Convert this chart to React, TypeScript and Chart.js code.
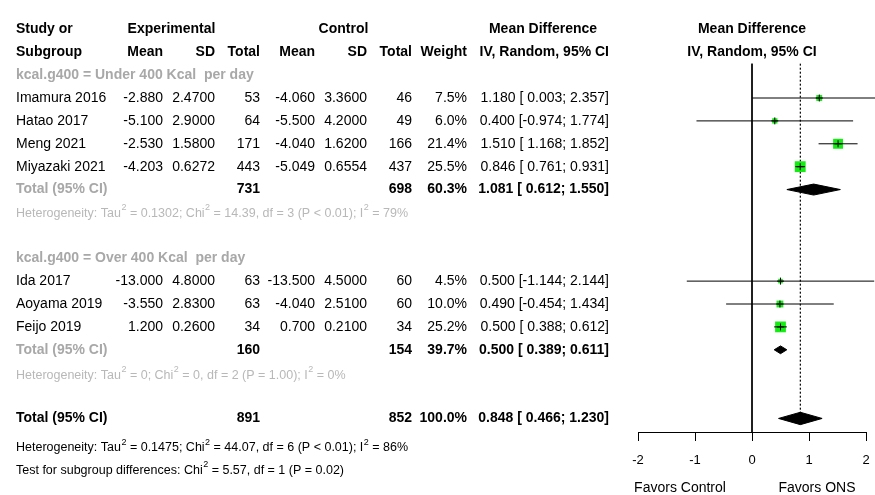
import React, { useEffect, useRef } from 'react';
import { Chart, registerables } from 'chart.js';
Chart.register(...registerables);

// ---------------- data ----------------
const studyNames = ['Imamura 2016', 'Hatao 2017', 'Meng 2021', 'Miyazaki 2021', 'Ida 2017', 'Aoyama 2019', 'Feijo 2019'];
const expMean = [-2.88, -5.1, -2.53, -4.203, -13.0, -3.55, 1.2];
const expSD = [2.47, 2.9, 1.58, 0.6272, 4.8, 2.83, 0.26];
const expTotal = [53, 64, 171, 443, 63, 63, 34];
const ctlMean = [-4.06, -5.5, -4.04, -5.049, -13.5, -4.04, 0.7];
const ctlSD = [3.36, 4.2, 1.62, 0.6554, 4.5, 2.51, 0.21];
const ctlTotal = [46, 49, 166, 437, 60, 60, 34];
const studyWeight = [7.5, 6.0, 21.4, 25.5, 4.5, 10.0, 25.2];
const studyMD = [1.18, 0.4, 1.51, 0.846, 0.5, 0.49, 0.5];
const studyLower = [0.003, -0.974, 1.168, 0.761, -1.144, -0.454, 0.388];
const studyUpper = [2.357, 1.774, 1.852, 0.931, 2.144, 1.434, 0.612];
const studyRow = [3, 4, 5, 6, 11, 12, 13];

const subgroupLabels = ['kcal.g400 = Under 400 Kcal  per day', 'kcal.g400 = Over 400 Kcal  per day'];
const subgroupLabelRow = [2, 10];

const pooledLabel = ['Total (95% CI)', 'Total (95% CI)', 'Total (95% CI)'];
const pooledExpTotal = [731, 160, 891];
const pooledCtlTotal = [698, 154, 852];
const pooledWeight = [60.3, 39.7, 100.0];
const pooledMD = [1.081, 0.5, 0.848];
const pooledLower = [0.612, 0.389, 0.466];
const pooledUpper = [1.55, 0.611, 1.23];
const pooledRow = [7, 14, 17];

const hetTau2 = ['0.1302', '0', '0.1475'];
const hetChi2 = ['14.39', '0', '44.07'];
const hetDf = [3, 2, 6];
const hetP = ['< 0.01', '= 1.00', '< 0.01'];
const hetI2 = [79, 0, 86];
const hetRow = [8, 15, 18];

const testChi2 = '5.57';
const testDf = 1;
const testP = '= 0.02';
const testRow = 19;

const xMin = -2;
const xMax = 2;
const overallMD = pooledMD[2];

// ---------------- styles ----------------
const FONT = '"Liberation Sans", Arial, Helvetica, sans-serif';
const GREEN = '#14ec14';
const GRAY = '#a8a8a8';
const GRAY_LIGHT = '#b8b8b8';
const Y_MIN = -0.9485;
const Y_MAX = 17.592;
const diamondHalf = [0.24, 0.17, 0.27];
const hetOffset = [0.03, 0.11, 0.28];
const testOffset = 0.26;
const HET_SIZE = 12.5;

const fmt3 = (v: number) => v.toFixed(3);
const fmtCI = (md: number, lo: number, hi: number) =>
  `${fmt3(md)} [${lo < 0 ? '' : ' '}${fmt3(lo)}; ${fmt3(hi)}]`;

const tablePlugin = {
  id: 'forestTable',
  afterDraw(chart: any) {
    const ctx: CanvasRenderingContext2D = chart.ctx;
    const ys = chart.scales.y;
    const Y = (r: number) => ys.getPixelForValue(r);
    ctx.save();
    ctx.textBaseline = 'middle';
    const txt = (s: string, x: number, r: number, align: CanvasTextAlign, bold = false, color = '#000', size = 14) => {
      ctx.font = `${bold ? 'bold ' : ''}${size}px ${FONT}`;
      ctx.fillStyle = color;
      ctx.textAlign = align;
      ctx.fillText(s, x, Y(r));
    };
    const sup = (s: string, x: number, r: number, color: string, size: number) => {
      const parts = s.split('^2');
      let cx = x;
      const y = Y(r);
      ctx.textAlign = 'left';
      ctx.fillStyle = color;
      parts.forEach((p, i) => {
        ctx.font = `${size}px ${FONT}`;
        ctx.fillText(p, cx, y);
        cx += ctx.measureText(p).width;
        if (i < parts.length - 1) {
          ctx.font = `${Math.round(size * 0.7)}px ${FONT}`;
          ctx.fillText('2', cx + 0.5, y - size * 0.42);
          cx += ctx.measureText('2').width + 0.5;
        }
      });
    };

    // column right edges
    const cName = 16, cEM = 163, cESD = 215, cEN = 260, cCM = 315, cCSD = 367, cCN = 412, cW = 467, cMD = 609;

    // headers
    txt('Study or', cName, 0, 'left', true);
    txt('Subgroup', cName, 1, 'left', true);
    txt('Experimental', 171.5, 0, 'center', true);
    txt('Control', 343.5, 0, 'center', true);
    txt('Mean Difference', 543, 0, 'center', true);
    txt('Mean', cEM, 1, 'right', true);
    txt('SD', cESD, 1, 'right', true);
    txt('Total', cEN, 1, 'right', true);
    txt('Mean', cCM, 1, 'right', true);
    txt('SD', cCSD, 1, 'right', true);
    txt('Total', cCN, 1, 'right', true);
    txt('Weight', cW, 1, 'right', true);
    txt('IV, Random, 95% CI', cMD, 1, 'right', true);
    const xc = chart.scales.x.getPixelForValue(0);
    txt('Mean Difference', xc, 0, 'center', true);
    txt('IV, Random, 95% CI', xc, 1, 'center', true);

    subgroupLabels.forEach((l, i) => txt(l, cName, subgroupLabelRow[i], 'left', true, GRAY));

    studyNames.forEach((n, i) => {
      const r = studyRow[i];
      txt(n, cName, r, 'left');
      txt(fmt3(expMean[i]), cEM, r, 'right');
      txt(expSD[i].toFixed(4), cESD, r, 'right');
      txt(String(expTotal[i]), cEN, r, 'right');
      txt(fmt3(ctlMean[i]), cCM, r, 'right');
      txt(ctlSD[i].toFixed(4), cCSD, r, 'right');
      txt(String(ctlTotal[i]), cCN, r, 'right');
      txt(studyWeight[i].toFixed(1) + '%', cW, r, 'right');
      txt(fmtCI(studyMD[i], studyLower[i], studyUpper[i]), cMD, r, 'right');
    });

    pooledLabel.forEach((l, i) => {
      const r = pooledRow[i];
      const overall = i === pooledLabel.length - 1;
      txt(l, cName, r, 'left', true, overall ? '#000' : GRAY);
      txt(String(pooledExpTotal[i]), cEN, r, 'right', true);
      txt(String(pooledCtlTotal[i]), cCN, r, 'right', true);
      txt(pooledWeight[i].toFixed(1) + '%', cW, r, 'right', true);
      txt(fmtCI(pooledMD[i], pooledLower[i], pooledUpper[i]), cMD, r, 'right', true);
    });

    hetRow.forEach((r, i) => {
      const overall = i === hetRow.length - 1;
      const s = `Heterogeneity: Tau^2 = ${hetTau2[i]}; Chi^2 = ${hetChi2[i]}, df = ${hetDf[i]} (P ${hetP[i]}); I^2 = ${hetI2[i]}%`;
      sup(s, cName, r + hetOffset[i], overall ? '#000' : GRAY_LIGHT, HET_SIZE);
    });
    sup(`Test for subgroup differences: Chi^2 = ${testChi2}, df = ${testDf} (P ${testP})`, cName, testRow + testOffset, '#000', HET_SIZE);

    // favours labels
    ctx.font = `14px ${FONT}`;
    ctx.fillStyle = '#000';
    ctx.textAlign = 'center';
    ctx.fillText('Favors Control', 680, 488);
    ctx.fillText('Favors ONS', 817, 488);
    ctx.restore();
  },
};

export default function App() {
  const ref = useRef<HTMLCanvasElement>(null);
  useEffect(() => {
    document.body.style.margin = '0';
    const datasets: any[] = [];
    // crosses at point estimates
    datasets.push({
      data: studyMD.map((m, i) => ({ x: m, y: studyRow[i] })),
      showLine: false,
      pointStyle: 'cross',
      pointRadius: 3.5,
      borderColor: '#000',
      borderWidth: 1,
      order: 0,
    });
    // CI lines
    studyMD.forEach((m, i) => {
      datasets.push({
        data: [{ x: studyLower[i], y: studyRow[i] }, { x: studyUpper[i], y: studyRow[i] }],
        borderColor: '#000',
        borderWidth: 1,
        pointRadius: 0,
        order: 1,
      });
    });
    // weight squares
    datasets.push({
      data: studyMD.map((m, i) => ({ x: m, y: studyRow[i] })),
      showLine: false,
      pointStyle: 'rect',
      pointRadius: studyWeight.map((w) => 1.52 * Math.sqrt(w)),
      backgroundColor: GREEN,
      borderWidth: 0,
      order: 2,
    });
    // diamonds
    pooledMD.forEach((m, i) => {
      const r = pooledRow[i];
      const h = diamondHalf[i];
      datasets.push({
        data: [
          { x: pooledLower[i], y: r },
          { x: m, y: r - h },
          { x: pooledUpper[i], y: r },
          { x: m, y: r + h },
          { x: pooledLower[i], y: r },
        ],
        borderColor: '#000',
        backgroundColor: '#000',
        borderWidth: 1,
        pointRadius: 0,
        fill: 'shape',
        order: 1,
      });
    });
    // no-effect line
    datasets.push({
      data: [{ x: 0, y: 1.5 }, { x: 0, y: Y_MAX }],
      borderColor: '#000',
      borderWidth: 1,
      pointRadius: 0,
      order: 3,
    });
    // overall effect dotted line
    datasets.push({
      data: [{ x: overallMD, y: 1.5 }, { x: overallMD, y: pooledRow[2] }],
      borderColor: '#000',
      borderWidth: 1.2,
      borderDash: [2, 2],
      pointRadius: 0,
      order: 3,
    });
    datasets.forEach((d) => { d.clip = false; d.tension = 0; });

    const chart = new Chart(ref.current!, {
      type: 'line',
      data: { datasets },
      options: {
        responsive: false,
        animation: false,
        devicePixelRatio: 1,
        layout: { padding: { left: 638, right: 9, top: 0, bottom: 0 } },
        plugins: { legend: { display: false }, tooltip: { enabled: false } },
        events: [],
        scales: {
          x: {
            type: 'linear',
            min: xMin,
            max: xMax,
            afterFit: (s: any) => { s.height = 63; s.paddingLeft = 0; s.paddingRight = 0; },
            ticks: { stepSize: 1, autoSkip: false, color: '#000', font: { size: 13, family: FONT }, padding: 12 },
            grid: { drawOnChartArea: false, drawTicks: true, tickLength: 9, color: '#000', lineWidth: 1 },
            border: { display: true, color: '#000', width: 1 },
          },
          y: { type: 'linear', min: Y_MIN, max: Y_MAX, reverse: true, display: false },
        },
      },
      plugins: [tablePlugin],
    });
    return () => chart.destroy();
  }, []);
  return (
    <div style={{ width: 875, height: 495, background: '#fff' }}>
      <canvas ref={ref} width={875} height={495} style={{ display: 'block' }} />
    </div>
  );
}
